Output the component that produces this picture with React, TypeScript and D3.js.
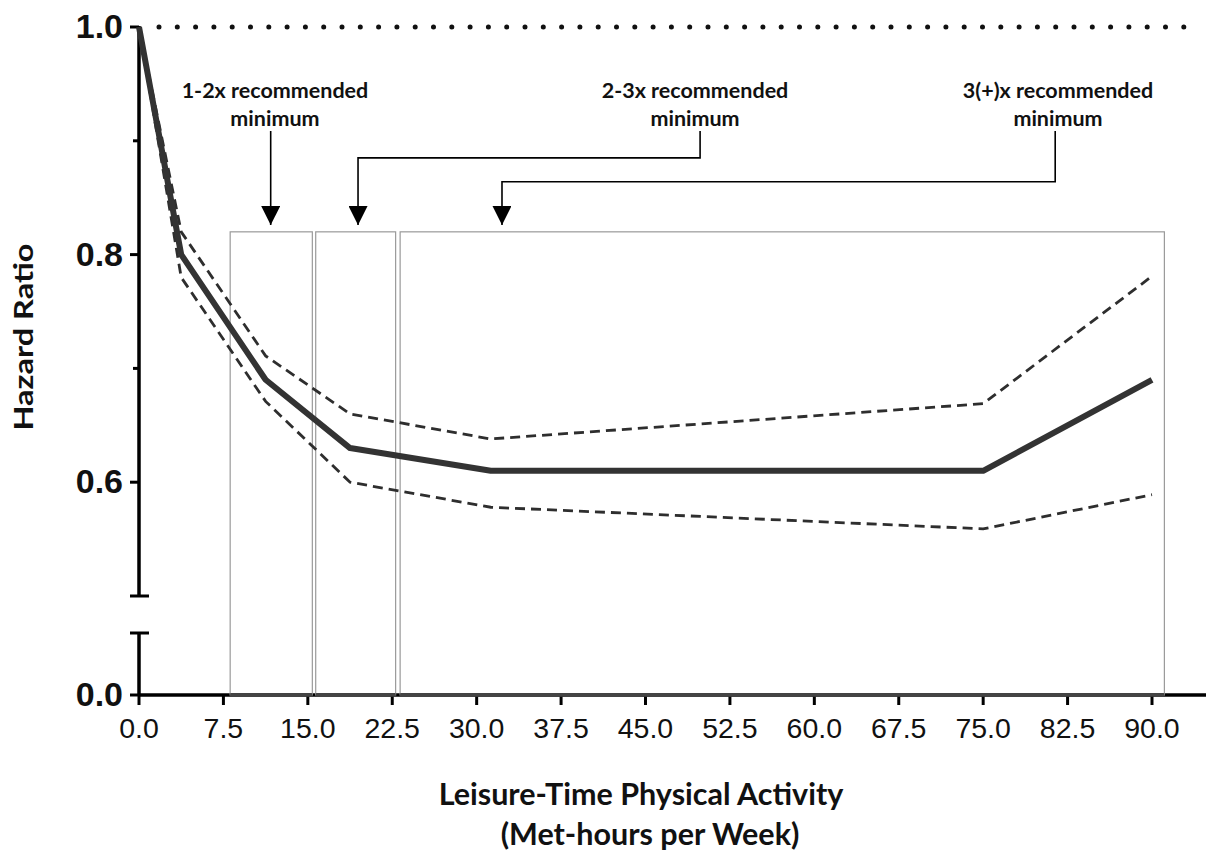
import React from "react";
import * as d3 from "d3";

const W = 1206;
const H = 850;

// ---- data ----
const xTicks = [0, 7.5, 15, 22.5, 30, 37.5, 45, 52.5, 60, 67.5, 75, 82.5, 90];
const yMajorTicks = [1.0, 0.8, 0.6];
const yMinorTicks = [0.9, 0.7];
const yLowerTicks = [0.0];

const activity = [0, 3.75, 11.25, 18.75, 31.25, 75, 90];
const hazard = [1.0, 0.8, 0.69, 0.63, 0.61, 0.61, 0.69];
const upperCI = [1.0, 0.82, 0.711, 0.66, 0.638, 0.669, 0.781];
const lowerCI = [1.0, 0.78, 0.671, 0.6, 0.578, 0.559, 0.589];

const boxStart = [8.1, 15.7, 23.2];
const boxEnd = [15.4, 22.8, 91.1];
const boxTop = 0.82;

const annotLine1 = ["1-2x recommended", "2-3x recommended", "3(+)x recommended"];
const annotLine2 = ["minimum", "minimum", "minimum"];
const annotTextX = [12.08, 49.4, 81.65];
const annotStemX = [11.7, 49.85, 81.4];
const annotArrowX = [11.7, 19.46, 32.25];
const annotElbowY = [null, 0.885, 0.864];

const xTitle1 = "Leisure-Time Physical Activity";
const xTitle2 = "(Met-hours per Week)";
const yTitle = "Hazard Ratio";

// ---- scales ----
const x = d3.scaleLinear().domain([0, 90]).range([139, 1152]);
const yUpper = d3.scaleLinear().domain([0.5, 1.0]).range([596, 27]);
const yLower = d3.scaleLinear().domain([0, 0.055]).range([695, 633]);
const y = (v: number) => (v >= 0.5 ? yUpper(v) : yLower(v));

const AXIS_X = x(0);
const AXIS_Y = yLower(0);

export default function App() {
  const pts = (ys: number[]) => activity.map((a, i) => [a, ys[i]] as [number, number]);
  const line = d3
    .line<[number, number]>()
    .x((d) => x(d[0]))
    .y((d) => y(d[1]));

  const sans = "'Liberation Sans', Arial, sans-serif";
  const lato = "Lato, 'Open Sans', sans-serif";

  return (
    <div style={{ position: "fixed", left: 0, top: 0, width: W, height: H, background: "#fff" }}>
      <svg width={W} height={H} viewBox={`0 0 ${W} ${H}`}>
        <defs>
          <marker id="arrowHead" viewBox="0 0 10 10" refX="10" refY="5" markerWidth="19" markerHeight="19" markerUnits="userSpaceOnUse" orient="auto">
            <path d="M0,0 L10,5 L0,10 Z" fill="#000" />
          </marker>
        </defs>

        {/* reference dotted line at 1.0 */}
        <line
          x1={AXIS_X + 20}
          x2={W - 4}
          y1={y(1.0)}
          y2={y(1.0)}
          stroke="#111"
          strokeWidth={5}
          strokeLinecap="round"
          strokeDasharray="0 18.3"
        />

        {/* x axis */}
        <line x1={AXIS_X} x2={W} y1={AXIS_Y} y2={AXIS_Y} stroke="#000" strokeWidth={3.5} />
        {xTicks.map((t) => (
          <g key={"xt" + t}>
            <line x1={x(t)} x2={x(t)} y1={AXIS_Y} y2={AXIS_Y + 10} stroke="#000" strokeWidth={3} />
            <text
              x={x(t)}
              y={AXIS_Y + 43}
              textAnchor="middle"
              fontFamily={sans}
              fontSize={28.5}
              fill="#111"
            >
              {t.toFixed(1)}
            </text>
          </g>
        ))}

        {/* boxes */}
        {boxStart.map((s, i) => (
          <g key={"b" + i}>
            <rect
              x={x(s)}
              y={y(boxTop)}
              width={x(boxEnd[i]) - x(s)}
              height={AXIS_Y - y(boxTop)}
              fill="none"
              stroke="#9a9a9a"
              strokeWidth={1.2}
            />
            <line x1={x(s)} x2={x(boxEnd[i])} y1={AXIS_Y} y2={AXIS_Y} stroke="#444" strokeWidth={3.5} />
          </g>
        ))}

        {/* y axis, upper segment */}
        <line x1={AXIS_X} x2={AXIS_X} y1={yUpper(1.0) - 1} y2={yUpper(0.5)} stroke="#000" strokeWidth={3.5} />
        <line x1={AXIS_X - 9} x2={AXIS_X + 10} y1={yUpper(0.5)} y2={yUpper(0.5)} stroke="#000" strokeWidth={3} />
        {/* y axis, lower segment */}
        <line x1={AXIS_X} x2={AXIS_X} y1={yLower(0.055)} y2={AXIS_Y} stroke="#000" strokeWidth={3.5} />
        <line x1={AXIS_X - 9} x2={AXIS_X + 10} y1={yLower(0.055)} y2={yLower(0.055)} stroke="#000" strokeWidth={3} />

        {yMajorTicks.concat(yLowerTicks).map((t) => (
          <g key={"yt" + t}>
            <line x1={AXIS_X - 9} x2={AXIS_X} y1={y(t)} y2={y(t)} stroke="#000" strokeWidth={3} />
            <text
              x={AXIS_X - 16}
              y={y(t) + 11}
              textAnchor="end"
              fontFamily={sans}
              fontWeight="bold"
              fontSize={34}
              fill="#111"
            >
              {t.toFixed(1)}
            </text>
          </g>
        ))}
        {yMinorTicks.map((t) => (
          <line key={"ym" + t} x1={AXIS_X - 6} x2={AXIS_X} y1={y(t)} y2={y(t)} stroke="#000" strokeWidth={3} />
        ))}

        {/* CI lines */}
        <path d={line(pts(upperCI)) || ""} fill="none" stroke="#2e2e2e" strokeWidth={2.8} strokeDasharray="10 6" />
        <path d={line(pts(lowerCI)) || ""} fill="none" stroke="#2e2e2e" strokeWidth={2.8} strokeDasharray="10 6" />
        {/* hazard line */}
        <path d={line(pts(hazard)) || ""} fill="none" stroke="#333" strokeWidth={6} strokeLinejoin="round" />

        {/* annotations */}
        {annotLine1.map((t, i) => {
          const tx = x(annotTextX[i]);
          const sx = x(annotStemX[i]);
          const ax = x(annotArrowX[i]);
          const top = 131;
          const tip = 225;
          const ey = annotElbowY[i];
          const d =
            ey === null
              ? `M${sx},${top} L${ax},${tip}`
              : `M${sx},${top} L${sx},${y(ey)} L${ax},${y(ey)} L${ax},${tip}`;
          return (
            <g key={"a" + i}>
              <text x={tx} y={98} textAnchor="middle" fontFamily={lato} fontWeight="bold" fontSize={21.5} fill="#111">
                {t}
              </text>
              <text x={tx} y={126} textAnchor="middle" fontFamily={lato} fontWeight="bold" fontSize={21.5} fill="#111">
                {annotLine2[i]}
              </text>
              <path d={d} fill="none" stroke="#000" strokeWidth={1.6} markerEnd="url(#arrowHead)" />
            </g>
          );
        })}

        {/* axis titles */}
        <text x={641} y={805} textAnchor="middle" fontFamily={lato} fontWeight="bold" fontSize={30.5} fill="#111">
          {xTitle1}
        </text>
        <text x={650} y={845} textAnchor="middle" fontFamily={lato} fontWeight="bold" fontSize={30.5} fill="#111">
          {xTitle2}
        </text>
        <text
          transform={`translate(33, 337) rotate(-90)`}
          textAnchor="middle"
          fontFamily={lato}
          fontWeight="bold"
          fontSize={27}
          textLength={187}
          lengthAdjust="spacingAndGlyphs"
          fill="#111"
        >
          {yTitle}
        </text>
      </svg>
    </div>
  );
}
